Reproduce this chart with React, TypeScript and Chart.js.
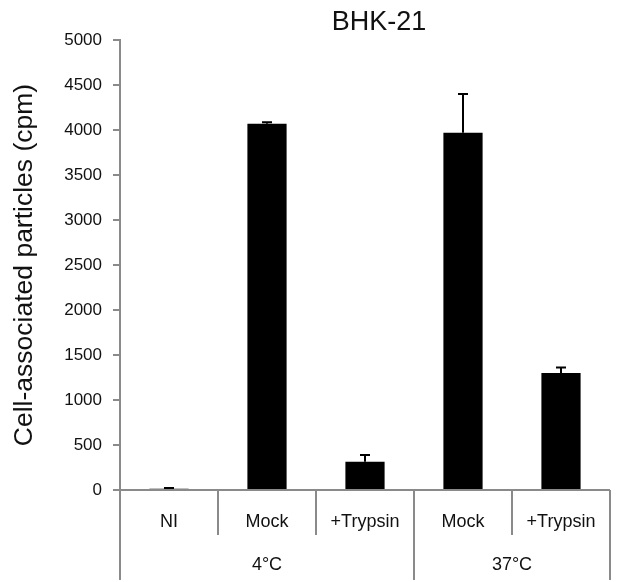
import React, { useEffect, useRef } from "react";
import { Chart, registerables } from "chart.js";

Chart.register(...registerables);

const categories = ["NI", "Mock", "+Trypsin", "Mock", "+Trypsin"];
const groups = ["4°C", "37°C"];
const groupSizes = [3, 2];
const values = [15, 4070, 315, 3970, 1300];
const errors = [6, 15, 75, 430, 60];
const yTicksMax = 5000;
const yStep = 500;
const titleText = "BHK-21";
const yTitle = "Cell-associated particles (cpm)";

const FONT = "'Liberation Sans', Arial, Helvetica, sans-serif";
const AXIS = "#8a8a8a";

const extrasPlugin = {
  id: "extras",
  afterDatasetsDraw(chart: any) {
    const { ctx } = chart;
    const meta = chart.getDatasetMeta(0);
    const y = chart.scales.y;
    ctx.save();
    ctx.strokeStyle = "#000";
    ctx.lineWidth = 2;
    meta.data.forEach((bar: any, i: number) => {
      const yb = y.getPixelForValue(values[i]);
      const yt = y.getPixelForValue(values[i] + errors[i]);
      ctx.beginPath();
      ctx.moveTo(bar.x, yb);
      ctx.lineTo(bar.x, yt);
      ctx.moveTo(bar.x - 5, yt);
      ctx.lineTo(bar.x + 5, yt);
      ctx.stroke();
    });
    ctx.restore();
  },
  afterDraw(chart: any) {
    const { ctx, chartArea } = chart;
    const { left, right, bottom } = chartArea;
    const H = chart.height;
    const n = categories.length;
    const w = (right - left) / n;
    ctx.save();
    ctx.strokeStyle = AXIS;
    ctx.lineWidth = 2;
    ctx.beginPath();
    ctx.moveTo(left - 1, bottom);
    ctx.lineTo(right, bottom);
    const groupBounds = new Set<number>([0]);
    let acc = 0;
    groupSizes.forEach((s) => {
      acc += s;
      groupBounds.add(acc);
    });
    for (let i = 0; i <= n; i++) {
      const x = left + i * w;
      ctx.moveTo(x, bottom);
      ctx.lineTo(x, groupBounds.has(i) ? H - 2 : bottom + 45);
    }
    ctx.stroke();
    ctx.fillStyle = "#111";
    ctx.textAlign = "center";
    ctx.textBaseline = "middle";
    ctx.font = `18px ${FONT}`;
    categories.forEach((c, i) => {
      ctx.fillText(c, left + (i + 0.5) * w, bottom + 32);
    });
    let start = 0;
    groups.forEach((g, gi) => {
      const s = groupSizes[gi];
      ctx.fillText(g, left + (start + s / 2) * w, bottom + 75);
      start += s;
    });
    ctx.font = `27px ${FONT}`;
    ctx.fillText(titleText, left + (right - left) / 2 + 14, 15);
    ctx.restore();
  },
};

export default function App() {
  const ref = useRef<HTMLCanvasElement>(null);
  useEffect(() => {
    if (!ref.current) return;
    const chart = new Chart(ref.current, {
      type: "bar",
      data: {
        labels: categories,
        datasets: [
          {
            data: values,
            backgroundColor: "#000",
            borderWidth: 0,
            barPercentage: 0.4,
            categoryPercentage: 1,
          },
        ],
      },
      options: {
        animation: false,
        responsive: true,
        maintainAspectRatio: false,
        layout: { padding: { top: 32, right: 25, bottom: 92, left: 0 } },
        plugins: { legend: { display: false }, tooltip: { enabled: false }, title: { display: false } },
        scales: {
          x: { display: false, offset: true },
          y: {
            min: 0,
            max: yTicksMax,
            afterFit: (s: any) => {
              s.width = 112;
            },
            ticks: {
              stepSize: yStep,
              padding: 11,
              color: "#111",
              font: { size: 17, family: FONT },
              callback: (v: any) => String(v),
            },
            grid: {
              drawOnChartArea: false,
              drawTicks: true,
              tickLength: 7,
              color: AXIS,
              lineWidth: 2,
            },
            border: { display: true, color: AXIS, width: 2 },
            title: {
              display: true,
              text: yTitle,
              color: "#111",
              font: { size: 26.5, family: FONT },
              padding: { top: 1, bottom: 0 },
            },
          },
        },
      },
      plugins: [extrasPlugin],
    });
    return () => chart.destroy();
  }, []);
  return (
    <div style={{ width: 627, height: 574, position: "relative" }}>
      <canvas ref={ref} />
    </div>
  );
}
